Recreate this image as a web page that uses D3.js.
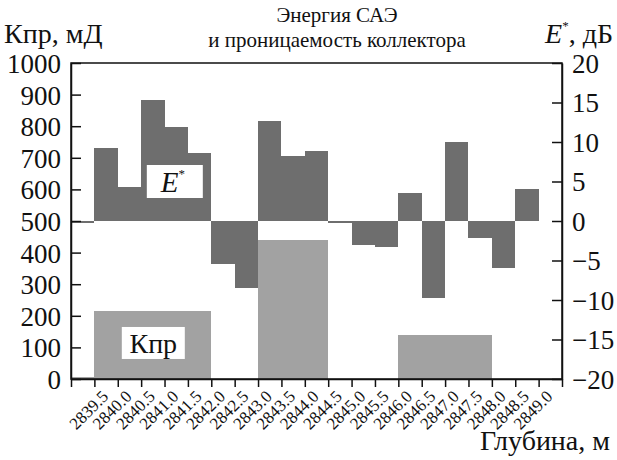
<!DOCTYPE html>
<html><head><meta charset="utf-8">
<script src="https://cdn.jsdelivr.net/npm/d3@7"></script>
<style>
html,body{margin:0;padding:0;background:#fff;}
</style></head>
<body><svg id="c" width="617" height="460"></svg>
<script>
const depths = ["2839.5","2840.0","2840.5","2841.0","2841.5","2842.0","2842.5","2843.0","2843.5","2844.0","2844.5","2845.0","2845.5","2846.0","2846.5","2847.0","2847.5","2848.0","2848.5","2849.0"];
const energy = [-0.3, 9.3, 4.3, 15.3, 11.9, 8.6, -5.4, -8.5, 12.7, 8.2, 8.9, -0.2, -3.1, -3.3, 3.5, -9.7, 10.0, -2.1, -6.0, 4.0];
const kpr = [5, 215, 215, 215, 215, 215, 0, 0, 440, 440, 440, 0, 0, 0, 140, 140, 140, 140, 0, 0];
const leftTicks = [0,100,200,300,400,500,600,700,800,900,1000];
const rightTicks = [-20,-15,-10,-5,0,5,10,15,20];
const titleLines = ["Энергия САЭ","и проницаемость коллектора"];

const FONT = "'Liberation Serif', 'DejaVu Serif', 'Times New Roman', serif";
const svg = d3.select("#c");
const L = 71, R = 562, T = 63, B = 379;
const x = d3.scaleLinear().domain([2839.0, 2849.5]).range([L, R]);
const yK = d3.scaleLinear().domain([0, 1000]).range([B, T]);
const yE = d3.scaleLinear().domain([-20, 20]).range([B, T]);
const step = 0.5;

// Kpr bars
svg.append("g").selectAll("rect").data(depths.map((d,i)=>({d:+d,v:kpr[i]})).filter(o=>o.v>0))
  .join("rect")
  .attr("x", o=>x(o.d-step)).attr("width", o=>x(o.d)-x(o.d-step))
  .attr("y", o=>yK(o.v)).attr("height", o=>yK(0)-yK(o.v))
  .attr("fill","#a2a2a2").attr("shape-rendering","crispEdges");

// Energy bars
svg.append("g").selectAll("rect").data(depths.map((d,i)=>({d:+d,v:energy[i]})))
  .join("rect")
  .attr("x", o=>x(o.d-step)).attr("width", o=>x(o.d)-x(o.d-step))
  .attr("y", o=>yE(Math.max(0,o.v))).attr("height", o=>Math.max(1.5, Math.abs(yE(o.v)-yE(0))))
  .attr("fill","#6e6e6e").attr("shape-rendering","crispEdges");

// frame
svg.append("rect").attr("x",L).attr("y",T).attr("width",R-L).attr("height",B-T)
  .attr("fill","none").attr("stroke","#111").attr("stroke-width",1.5);

function styleAxis(g, size){
  g.attr("font-family", FONT);
  g.select(".domain").attr("stroke","#111").attr("stroke-width",1.5);
  g.selectAll(".tick line").attr("stroke","#111").attr("stroke-width",1.5);
  g.selectAll(".tick text").attr("font-size",size).attr("font-family",FONT).attr("fill","#111");
}

// left axis
const la = svg.append("g").attr("transform",`translate(${L},0)`)
  .call(d3.axisLeft(yK).tickValues(leftTicks).tickSize(-10).tickSizeOuter(0).tickPadding(10).tickFormat(d3.format("d")));
styleAxis(la, 27);
la.selectAll(".tick text").attr("dy","0.35em");

// right axis
const ra = svg.append("g").attr("transform",`translate(${R},0)`)
  .call(d3.axisRight(yE).tickValues(rightTicks).tickSize(-10).tickSizeOuter(0).tickPadding(10)
    .tickFormat(d=> d<0 ? "\u2212"+Math.abs(d) : String(d)));
styleAxis(ra, 27);
ra.selectAll(".tick text").attr("dy","0.35em");

// bottom axis
const tickVals = [2839.0].concat(depths.map(Number), [2849.5]);
const ba = svg.append("g").attr("transform",`translate(0,${B})`)
  .call(d3.axisBottom(x).tickValues(tickVals).tickSize(8).tickSizeOuter(0).tickFormat(d=>{
    const s = d.toFixed(1); return depths.includes(s) ? s : "";}));
styleAxis(ba, 17);
ba.selectAll(".tick text").attr("text-anchor","end")
  .attr("transform","translate(0,4) rotate(-45)").attr("dy","0.55em").attr("dx","0");

// annotation boxes
function labelBox(cx, cy, w, h){
  svg.append("rect").attr("x",cx-w/2).attr("y",cy-h/2).attr("width",w).attr("height",h).attr("fill","#fff");
}
function txt(){ return svg.append("text").attr("font-family",FONT).attr("fill","#111"); }

const eCx = x(2841.22), eCy = yE(5.0);
labelBox(eCx, eCy, 56, 33);
const et = txt().attr("x",eCx-2).attr("y",eCy+10).attr("text-anchor","middle").attr("font-size",29);
et.append("tspan").attr("font-style","italic").text("E");
et.append("tspan").attr("font-size",13).attr("dy",-14).text("*");

const kCx = x(2840.76), kCy = yK(114);
labelBox(kCx, kCy, 63, 32);
txt().attr("x",kCx).attr("y",kCy+10).attr("text-anchor","middle").attr("font-size",28).text("Кпр");

// titles
txt().attr("x",337).attr("y",22).attr("text-anchor","middle").attr("font-size",21).text(titleLines[0]);
txt().attr("x",337).attr("y",47).attr("text-anchor","middle").attr("font-size",21).text(titleLines[1]);
txt().attr("x",4).attr("y",43).attr("font-size",28).text("Кпр, мД");
const rt = txt().attr("x",613).attr("y",43).attr("text-anchor","end").attr("font-size",28);
rt.append("tspan").attr("font-style","italic").text("E");
rt.append("tspan").attr("font-size",13).attr("dy",-13).text("*");
rt.append("tspan").attr("dy",13).text(", дБ");
txt().attr("x",610).attr("y",450).attr("text-anchor","end").attr("font-size",28).text("Глубина, м");
</script></body></html>
